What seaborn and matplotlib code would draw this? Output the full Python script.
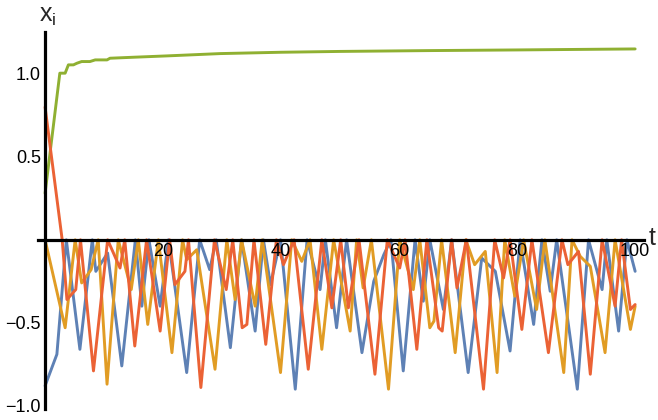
import matplotlib
matplotlib.use("Agg")
import matplotlib.pyplot as plt
import seaborn as sns
import pandas as pd

# ---- data (t, x_i) ----
blue_t = [0, 2.0, 3.6, 5.9, 8.0, 8.6, 10.6, 13.0, 15.3, 16.4, 17.6, 19.5, 20.9, 24.0, 26.2, 27.9, 29.0,
          31.4, 33.3, 35.6, 37.0, 38.2, 39.9, 42.4, 44.4, 46.6, 47.5, 49.4, 51.1, 53.7, 55.7, 57.4,
          58.6, 60.7, 62.7, 64.1, 65.2, 67.5, 68.9, 71.7, 74.0, 76.3, 78.8, 80.5, 82.8, 84.2, 85.6,
          86.7, 90.2, 92.1, 94.4, 95.2, 97.2, 98.6, 100]
blue_y = [-0.88, -0.69, 0.0, -0.66, 0.0, -0.19, -0.08, -0.76, 0.0, -0.40, 0.0, -0.40, 0.0, -0.80, 0.0, -0.18, 0.0,
          -0.65, 0.0, -0.55, 0.0, -0.27, 0.0, -0.90, 0.0, -0.30, 0.0, -0.53, 0.0, -0.68, -0.25, -0.09,
          0.0, -0.79, 0.0, -0.37, 0.0, -0.42, 0.0, -0.80, -0.11, -0.19, -0.67, 0.0, -0.51, 0.0, -0.31,
          0.0, -0.90, 0.0, -0.30, 0.0, -0.55, 0.0, -0.19]

red_t = [0, 2.9, 3.7, 5.2, 6.0, 8.2, 10.6, 12.7, 13.5, 15.2, 17.2, 19.5, 21.1, 22.0, 23.7, 24.3, 26.4,
         28.7, 30.7, 31.8, 33.4, 34.2, 35.4, 37.4, 39.2, 40.4, 42.2, 44.6, 46.9, 48.6, 50.1, 51.4,
         53.2, 55.9, 58.0, 60.1, 61.0, 63.0, 64.7, 66.7, 67.3, 68.9, 69.8, 71.4, 74.3, 76.2, 77.7,
         78.8, 80.8, 82.5, 85.3, 87.6, 88.6, 90.4, 92.4, 94.4, 96.6, 97.7, 99.2, 100]
red_y = [0.80, 0.0, -0.36, -0.30, 0.0, -0.79, 0.0, -0.17, 0.0, -0.64, 0.0, -0.55, 0.0, -0.27, -0.19, 0.0, -0.89,
         0.0, -0.30, 0.0, -0.53, -0.51, 0.0, -0.63, 0.0, -0.15, 0.0, -0.78, 0.0, -0.41, 0.0, -0.41,
         0.0, -0.81, 0.0, -0.17, 0.0, -0.66, 0.0, -0.53, -0.55, 0.0, -0.29, 0.0, -0.90, 0.0, -0.23,
         0.0, -0.54, 0.0, -0.68, 0.0, -0.15, -0.07, -0.81, 0.0, -0.40, 0.0, -0.42, -0.39]

yellow_t = [0, 3.4, 5.1, 6.2, 7.8, 9.0, 10.5, 12.4, 14.6, 15.8, 17.4, 19.2, 21.5, 23.3, 24.0, 25.7,
            28.8, 30.8, 32.2, 33.3, 35.6, 36.8, 39.9, 41.8, 43.5, 44.9, 46.9, 48.9, 51.7, 52.8, 53.9,
            55.3, 58.2, 60.1, 62.4, 63.5, 65.2, 65.9, 67.2, 69.5, 71.3, 72.8, 74.6, 76.6, 77.9, 79.6,
            81.1, 83.3, 84.7, 87.9, 89.3, 90.7, 92.4, 94.9, 96.6, 99.2, 100]
yellow_y = [0.0, -0.53, 0.0, -0.26, -0.18, 0.0, -0.87, 0.0, -0.30, 0.0, -0.51, 0.0, -0.68, 0.0, -0.12, -0.06,
            -0.78, 0.0, -0.36, 0.0, -0.40, 0.0, -0.80, 0.0, -0.13, 0.0, -0.66, 0.0, -0.55, 0.0, -0.29,
            0.0, -0.90, 0.0, -0.30, 0.0, -0.53, -0.49, 0.0, -0.68, 0.0, -0.15, -0.07, -0.80, 0.0, -0.34,
            0.0, -0.42, 0.0, -0.80, 0.0, -0.10, -0.16, -0.68, 0.0, -0.54, -0.40]

green_t = [0, 2.5, 3.4, 3.95, 4.8, 5.4, 6.2, 7.6, 8.5, 10.5, 11.0, 15.0, 20.6, 29.7, 40, 50, 65, 80, 100]
green_y = [0.28, 1.004, 1.004, 1.054, 1.054, 1.064, 1.074, 1.074, 1.084, 1.084, 1.094, 1.10, 1.108,
           1.122, 1.130, 1.135, 1.140, 1.144, 1.150]

series_names = ["x1", "x2", "x3", "x4"]
colors = ["#5E81B5", "#E19C24", "#8FB032", "#EB6235"]

x_ticks = [20, 40, 60, 80, 100]
y_ticks = [-1.0, -0.5, 0.5, 1.0]
y_tick_labels = ["\u22121.0", "\u22120.5", "0.5", "1.0"]

frames = []
for name, tt, yy in zip(series_names, [blue_t, yellow_t, green_t, red_t],
                        [blue_y, yellow_y, green_y, red_y]):
    frames.append(pd.DataFrame({"t": tt, "x": yy, "s": name}))
df = pd.concat(frames, ignore_index=True)

sns.set_style("white")
plt.rcParams["font.family"] = ["Liberation Sans", "DejaVu Sans"]

fig = plt.figure(figsize=(6.58, 4.20), dpi=100)
ax = fig.add_axes([38 / 658, 0.026, 606 / 658, 0.897])

sns.lineplot(data=df, x="t", y="x", hue="s", palette=dict(zip(series_names, colors)),
             sort=False, estimator=None, units="s", linewidth=2.1, legend=False, ax=ax)
for ln in ax.get_lines():
    ln.set_solid_joinstyle("round")

ax.set_xlim(-1.2, 101.5)
ax.set_ylim(-1.02, 1.25)
ax.spines["left"].set_position(("data", 0))
ax.spines["bottom"].set_position(("data", 0))
ax.spines["top"].set_visible(False)
ax.spines["right"].set_visible(False)
for sp in ["left", "bottom"]:
    ax.spines[sp].set_linewidth(2.3)
    ax.spines[sp].set_color("black")
    ax.spines[sp].set_zorder(3)
ax.set_axisbelow(False)

ax.set_xticks(x_ticks)
ax.set_xticklabels([str(v) for v in x_ticks])
ax.set_yticks(y_ticks)
ax.set_yticklabels(y_tick_labels)
ax.tick_params(axis="both", direction="in", length=4, width=1.2, labelsize=13, colors="black")
ax.tick_params(axis="x", pad=2)
ax.tick_params(axis="y", pad=3)
ax.set_xlabel("")
ax.set_ylabel("")
ax.grid(False)

fig.text(48 / 658, 1 - 16 / 420, r"$\mathregular{x_i}$", fontsize=18, ha="center", va="center")
fig.text(652 / 658, 1 - 238 / 420, "t", fontsize=18, ha="center", va="center")

fig.savefig("out.png", dpi=100)
